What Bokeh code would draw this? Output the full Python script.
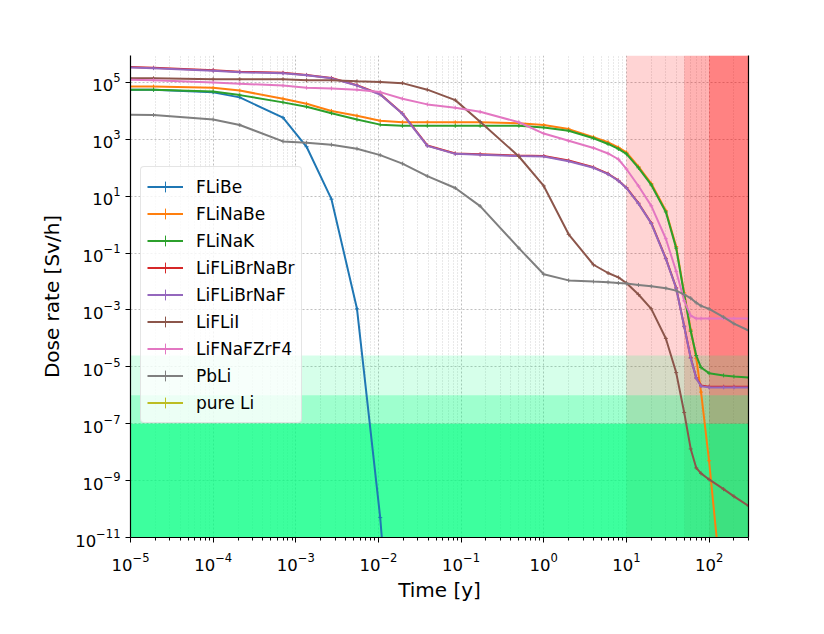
import math
from bokeh.plotting import figure
from bokeh.models import (FixedTicker, LogAxis, Legend, LegendItem, BoxAnnotation,
                          Range1d, ColumnDataSource)
from bokeh.embed import file_html
from bokeh.resources import INLINE

nan = float("nan")

# decay time [y]
time_y = [1e-5, 1.9e-5, 1e-4, 2.1e-4, 7e-4, 1.35e-3, 2.7e-3, 5.5e-3, 1.05e-2, 1.95e-2,
          3.9e-2, 8.5e-2, 0.17, 0.5, 1, 2, 4, 6, 8, 10,
          14, 20, 30, 40, 50, 60, 70, 80, 100, 150, 200, 300]

# dose rate [Sv/h]
flibe = [5.6e4, 5.6e4, 4.5e4, 3.0e4, 5.8e3, 5.5e2, 7.9, 1.1e-3, 5.0e-11, 1e-20,
         nan, nan, nan, nan, nan, nan, nan, nan, nan, nan,
         nan, nan, nan, nan, nan, nan, nan, nan, nan, nan, nan, nan]
flinabe = [7.2e4, 7.2e4, 6.5e4, 5.2e4, 2.7e4, 1.8e4, 1.0e4, 6.8e3, 4.5e3, 4.0e3,
           4.0e3, 4.0e3, 4.0e3, 3.7e3, 3.2e3, 2.3e3, 1.2e3, 7.9e2, 5.2e2, 3.5e2,
           1.1e2, 28, 3.1, 0.17, 4.0e-3, 2.0e-4, 2.0e-5, 1.3e-6, 5.0e-9, 3.2e-14, nan, nan]
flinak = [5.6e4, 5.6e4, 4.8e4, 3.6e4, 2.0e4, 1.4e4, 8.3e3, 5.0e3, 3.3e3, 3.0e3,
          3.0e3, 3.0e3, 3.0e3, 3.0e3, 2.6e3, 2.0e3, 1.1e3, 6.9e2, 4.6e2, 3.1e2,
          1.0e2, 25, 2.8, 0.15, 3.5e-3, 1.8e-4, 2.5e-5, 9.5e-6, 6.0e-6, 5.0e-6, 4.6e-6, 4.2e-6]
lifli_brnabr = [3.5e5, 3.3e5, 2.7e5, 2.4e5, 2.2e5, 1.85e5, 1.45e5, 8.0e4, 3.9e4, 8.2e3,
                6.1e2, 3.2e2, 3.0e2, 2.7e2, 2.6e2, 1.8e2, 1.04e2, 62, 36, 20,
                5.7, 1.15, 6.5e-2, 6.0e-3, 2.7e-4, 2.1e-5, 4.1e-6, 2.2e-6, 2.0e-6, 2.0e-6, 2.0e-6, 2.0e-6]
lifli_brnaf = [3.4e5, 3.2e5, 2.6e5, 2.3e5, 2.1e5, 1.8e5, 1.4e5, 7.8e4, 3.8e4, 7.9e3,
               5.9e2, 3.1e2, 2.9e2, 2.6e2, 2.5e2, 1.7e2, 1.0e2, 60, 35, 19.5,
               5.5, 1.1, 6.3e-2, 5.8e-3, 2.6e-4, 2.0e-5, 4.0e-6, 2.1e-6, 1.9e-6, 1.9e-6, 1.9e-6, 1.9e-6]
lifli_i = [1.4e5, 1.4e5, 1.3e5, 1.3e5, 1.3e5, 1.2e5, 1.2e5, 1.1e5, 1.05e5, 9.5e4,
           5.6e4, 2.4e4, 4.2e3, 2.5e2, 23, 0.46, 3.9e-2, 2.0e-2, 1.4e-2, 8.9e-3,
           3.5e-3, 1.1e-3, 1.0e-4, 6.3e-6, 2.5e-7, 1.3e-8, 2.8e-9, 1.8e-9, 1.1e-9, 5.0e-10, 2.8e-10, 1.3e-10]
lifnafzrf4 = [1.26e5, 1.2e5, 1.0e5, 9.1e4, 7.8e4, 6.6e4, 6.2e4, 5.6e4, 4.6e4, 2.7e4,
              1.7e4, 1.3e4, 9.3e3, 4.0e3, 1.6e3, 8.9e2, 5.0e2, 3.2e2, 2.0e2, 91,
              23, 4.6, 0.32, 2.3e-2, 2.1e-3, 6.3e-4, 5.0e-4, 5.0e-4, 5.0e-4, 5.0e-4, 5.0e-4, 5.0e-4]
pbli = [7.4e3, 7.2e3, 5.0e3, 3.2e3, 8.5e2, 7.6e2, 6.5e2, 4.7e2, 2.8e2, 1.4e2,
        51, 19.5, 4.5, 0.15, 1.8e-2, 1.1e-2, 1.0e-2, 9.5e-3, 8.9e-3, 8.5e-3,
        7.6e-3, 6.8e-3, 5.8e-3, 4.8e-3, 3.5e-3, 2.6e-3, 1.8e-3, 1.4e-3, 1.1e-3, 5.6e-4, 3.3e-4, 1.9e-4]
# pure Li: nothing visible on the chart
pure_li = [nan, nan, nan, nan, nan, nan, nan, nan, nan, nan,
           nan, nan, nan, nan, nan, nan, nan, nan, nan, nan,
           nan, nan, nan, nan, nan, nan, nan, nan, nan, nan, nan, nan]

series_names = ["FLiBe", "FLiNaBe", "FLiNaK", "LiFLiBrNaBr", "LiFLiBrNaF",
                "LiFLiI", "LiFNaFZrF4", "PbLi", "pure Li"]
series_values = [flibe, flinabe, flinak, lifli_brnabr, lifli_brnaf,
                 lifli_i, lifnafzrf4, pbli, pure_li]
series_colors = ["#1f77b4", "#ff7f0e", "#2ca02c", "#d62728", "#9467bd",
                 "#8c564b", "#e377c2", "#7f7f7f", "#bcbd22"]

# shaded limits
time_limits = [10, 50, 100]
time_alphas = [0.17, 0.16, 0.27]
dose_limits = [2.5e-5, 1e-6, 1e-7]
dose_alphas = [0.16, 0.26, 0.61]

x_ticks = [1e-5, 1e-4, 1e-3, 1e-2, 1e-1, 1e0, 1e1, 1e2]
y_ticks = [1e-11, 1e-9, 1e-7, 1e-5, 1e-3, 1e-1, 1e1, 1e3, 1e5]

FONT = "DejaVu Sans"

p = figure(width=808, height=618, x_axis_type="log", y_axis_type="log",
           x_range=Range1d(1e-5, 300), y_range=Range1d(1e-11, 8.9e5),
           output_backend="svg", toolbar_location=None,
           min_border_left=130, min_border_right=60, min_border_top=55,
           min_border_bottom=81)
p.outline_line_color = None
p.background_fill_color = "white"
p.border_fill_color = "white"

minor_x = [k * 10.0 ** e for e in range(-5, 3) for k in range(2, 10)]
p.xaxis.ticker = FixedTicker(ticks=x_ticks, minor_ticks=minor_x)
p.yaxis.ticker = FixedTicker(ticks=y_ticks, minor_ticks=[])

for ax in (p.xaxis[0], p.yaxis[0]):
    ax.axis_line_color = "black"
    ax.axis_line_width = 1.2
    ax.major_tick_line_color = "black"
    ax.minor_tick_line_color = "black"
    ax.major_tick_out = 5
    ax.major_tick_in = 0
    ax.minor_tick_out = 3
    ax.minor_tick_in = 0
    ax.major_label_text_font = FONT
    ax.major_label_text_font_size = "16.5px"
    ax.major_label_text_color = "black"
    ax.axis_label_text_font = FONT
    ax.axis_label_text_font_size = "20px"
    ax.axis_label_text_font_style = "normal"
    ax.axis_label_text_color = "black"

p.xaxis.major_label_standoff = 10
p.yaxis.major_label_standoff = 5
p.xaxis.axis_label = "Time [y]"
p.yaxis.axis_label = "Dose rate [Sv/h]"
p.xaxis.axis_label_standoff = 4
p.yaxis.axis_label_standoff = 8

# right spine
right_axis = LogAxis(ticker=FixedTicker(ticks=[]), major_tick_line_color=None,
                     minor_tick_line_color=None, major_label_text_font_size="0px",
                     axis_line_color="black", axis_line_width=1.2)
p.add_layout(right_axis, "right")

p.xgrid.grid_line_color = "#b0b0b0"
p.xgrid.grid_line_dash = "2 2"
p.xgrid.grid_line_alpha = 0.8
p.xgrid.minor_grid_line_color = "#c8c8c8"
p.xgrid.minor_grid_line_dash = "1 2"
p.xgrid.minor_grid_line_alpha = 0.8
p.ygrid.grid_line_color = "#b0b0b0"
p.ygrid.grid_line_dash = "2 2"
p.ygrid.grid_line_alpha = 0.8

# shaded regions (red over time, green under dose limits)
for t, a in zip(time_limits, time_alphas):
    p.add_layout(BoxAnnotation(left=t, fill_color="#ff0000", fill_alpha=a,
                               line_color=None, level="underlay"))
for d, a in zip(dose_limits, dose_alphas):
    p.add_layout(BoxAnnotation(top=d, fill_color="#00ff7f", fill_alpha=a,
                               line_color=None, level="underlay"))

items = []
for name, vals, col in zip(series_names, series_values, series_colors):
    src = ColumnDataSource(dict(x=time_y, y=vals))
    lr = p.line("x", "y", source=src, line_color=col, line_width=2)
    mr = p.scatter("x", "y", source=src, marker="cross", size=4,
                   line_color=col, line_width=1)
    items.append(LegendItem(label=name, renderers=[lr, mr]))

legend = Legend(items=items, location=(10, 114), margin=0, padding=6, spacing=0,
                glyph_height=27, glyph_width=36, label_standoff=13,
                label_text_font=FONT, label_text_font_size="17px",
                label_text_color="black",
                background_fill_color="white", background_fill_alpha=0.8,
                border_line_color="#cccccc", border_line_width=1,
                border_radius=4)
p.add_layout(legend, "center")

open("out.html", "w").write(file_html(p, INLINE))
